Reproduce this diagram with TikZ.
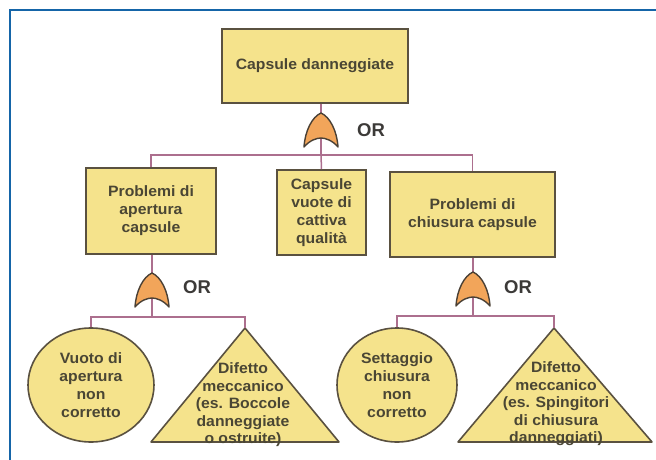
\documentclass[tikz,border=0pt]{standalone}
\usepackage{fontspec}
\setmainfont{Liberation Sans}
\newfontfamily\widesans[FakeStretch=1.05]{Liberation Sans}
\usetikzlibrary{shapes.geometric}

\definecolor{boxfill}{HTML}{F5E38C}
\definecolor{boxline}{HTML}{5A5140}
\definecolor{wirecol}{HTML}{AC6F8E}
\definecolor{gatefill}{HTML}{F2A55A}
\definecolor{gateline}{HTML}{4A4035}
\definecolor{framecol}{HTML}{1565A8}
\definecolor{txtcol}{HTML}{4A4634}
\definecolor{orcol}{HTML}{3C3A38}

\tikzset{
  event/.style={draw=boxline, line width=1.6pt, fill=boxfill, text=txtcol,
    align=center, inner sep=2pt,
    font=\widesans\fontsize{15}{18}\selectfont\bfseries},
  basic/.style={event, ellipse},
  evtext/.style={text=txtcol, align=center, inner sep=0pt,
    font=\widesans\fontsize{15}{17.5}\selectfont\bfseries},
  wire/.style={draw=wirecol, line width=1.5pt},
  orlabel/.style={text=orcol, font=\fontsize{18.5}{20}\selectfont\bfseries},
  frameline/.style={draw=framecol, line width=2.6pt},
  orgate/.pic={
    \draw[draw=gateline, line width=1.4pt, fill=gatefill, line join=round]
      (0,0) .. controls (9,4) and (16,18) .. (17,34)
      .. controls (11,27) and (4,25) .. (0,25)
      .. controls (-4,25) and (-11,27) .. (-17,34)
      .. controls (-16,18) and (-9,4) .. cycle;
  }
}

\begin{document}
\begin{tikzpicture}[x=1pt, y=-1pt]
\useasboundingbox (0,0) rectangle (656,460);

% page frame
\draw[frameline] (10,470) -- (10,10) -- (666,10);

% --- top event and first level -----------------------------------------
\node[event, minimum width=186pt, minimum height=74pt] (top) at (315,66)
  {Capsule danneggiate};

\node[event, minimum width=130pt, minimum height=86pt] (pa) at (151,211)
  {Problemi di\\apertura\\capsule};
\node[event, minimum width=89pt, minimum height=85pt] (cv) at (321.5,212.5)
  {Capsule\\vuote di\\cattiva\\qualità};
\node[event, minimum width=165pt, minimum height=85pt] (pc) at (472.5,214.5)
  {Problemi di\\chiusura capsule};

\coordinate (g1) at (321,113);
\coordinate (j1) at (321,155);
\draw[wire] (top.south -| g1) -- (j1);
\draw[wire] (pa.north) |- (j1) -| (pc.north);
\draw[wire] (j1) -- (cv.north);
\pic at (g1) {orgate};
\node[orlabel] (or1) at (371,130) {OR};

% --- left branch -----------------------------------------------------------
\node[basic, minimum width=126pt, minimum height=114pt, inner sep=0pt] (va) at (91,385)
  {Vuoto di\\apertura\\non\\corretto};
\coordinate (ta) at (245,328);
\coordinate (tal) at (151,442);
\coordinate (tar) at (339,442);
\filldraw[draw=boxline, line width=1.6pt, fill=boxfill, line join=round]
  (ta) -- (tar) -- (tal) -- cycle;
\node[evtext] (dma) at (243,405)
  {Difetto\\meccanico\\(es. Boccole\\danneggiate\\o ostruite)};

\coordinate (g2) at (152,273);
\coordinate (j2) at (152,317);
\draw[wire] (pa.south -| g2) -- (j2);
\draw[wire] (va.north) |- (j2) -| (ta);
\pic at (g2) {orgate};
\node[orlabel] (or2) at (197,287) {OR};

% --- right branch ----------------------------------------------------------
\node[basic, minimum width=120pt, minimum height=114pt, inner sep=0pt] (sc) at (397,385)
  {Settaggio\\chiusura\\non\\corretto};
\coordinate (tb) at (554,328);
\coordinate (tbl) at (458,442);
\coordinate (tbr) at (652,442);
\filldraw[draw=boxline, line width=1.6pt, fill=boxfill, line join=round]
  (tb) -- (tbr) -- (tbl) -- cycle;
\node[evtext] (dmb) at (556,404)
  {Difetto\\meccanico\\(es. Spingitori\\di chiusura\\danneggiati)};

\coordinate (g3) at (473,272);
\coordinate (j3) at (473,316);
\draw[wire] (pc.south -| g3) -- (j3);
\draw[wire] (sc.north) |- (j3) -| (tb);
\pic at (g3) {orgate};
\node[orlabel] (or3) at (518,287) {OR};
\end{tikzpicture}
\end{document}
